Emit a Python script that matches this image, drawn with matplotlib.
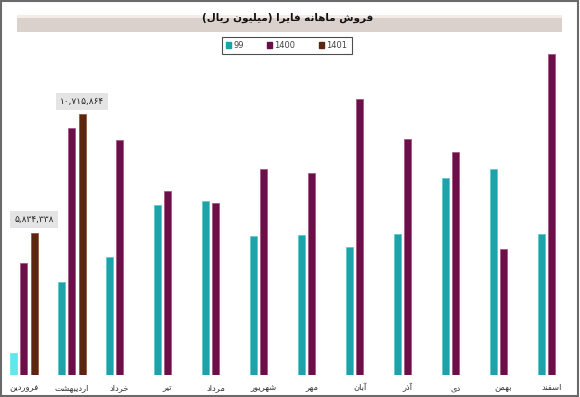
import numpy as np
import matplotlib
matplotlib.use("Agg")
import matplotlib.pyplot as plt
from matplotlib.patches import Rectangle, Polygon

# Data (million rials)
months = ['فروردین', 'اردیبهشت', 'خرداد', 'تیر', 'مرداد', 'شهریور',
          'مهر', 'آبان', 'آذر', 'دی', 'بهمن', 'اسفند']
sales_99 = [920000, 3830000, 4860000, 6990000, 7150000, 5710000,
            5750000, 5270000, 5800000, 8110000, 8470000, 5800000]
sales_1400 = [4590000, 10140000, 9660000, 7570000, 7060000, 8450000,
              8310000, 11360000, 9710000, 9150000, 5190000, 13190000]
sales_1401 = [5834338, 10715864]
series_names = ['99', '1400', '1401']
title = 'فروش ماهانه فایرا (میلیون ریال)'

# --- minimal Persian shaping (matplotlib has no bidi / joining) ---
RIGHT_ONLY = set('اآدذرزوژ')
FORMS = {
    'ا': ('\uFE8D', '\uFE8E', None, None),
    'آ': ('\uFE81', '\uFE82', None, None),
    'ب': ('\uFE8F', '\uFE90', '\uFE91', '\uFE92'),
    'ت': ('\uFE95', '\uFE96', '\uFE97', '\uFE98'),
    'خ': ('\uFEA5', '\uFEA6', '\uFEA7', '\uFEA8'),
    'د': ('\uFEA9', '\uFEAA', None, None),
    'ذ': ('\uFEAB', '\uFEAC', None, None),
    'ر': ('\uFEAD', '\uFEAE', None, None),
    'س': ('\uFEB1', '\uFEB2', '\uFEB3', '\uFEB4'),
    'ش': ('\uFEB5', '\uFEB6', '\uFEB7', '\uFEB8'),
    'ف': ('\uFED1', '\uFED2', '\uFED3', '\uFED4'),
    'ل': ('\uFEDD', '\uFEDE', '\uFEDF', '\uFEE0'),
    'م': ('\uFEE1', '\uFEE2', '\uFEE3', '\uFEE4'),
    'ن': ('\uFEE5', '\uFEE6', '\uFEE7', '\uFEE8'),
    'ه': ('\uFEE9', '\uFEEA', '\uFEEB', '\uFEEC'),
    'و': ('\uFEED', '\uFEEE', None, None),
    'ی': ('\uFEEF', '\uFEF0', '\uFEF3', '\uFEF4'),
}


def shape(text):
    out = []
    for i, ch in enumerate(text):
        if ch not in FORMS:
            out.append(ch)
            continue
        prev = text[i - 1] if i > 0 else ''
        nxt = text[i + 1] if i + 1 < len(text) else ''
        jp = prev in FORMS and prev not in RIGHT_ONLY
        jn = nxt in FORMS and ch not in RIGHT_ONLY
        iso, fin, ini, med = FORMS[ch]
        out.append(med if jp and jn else fin if jp else ini if jn else iso)
    vis = ''.join(reversed(out))
    return vis.translate(str.maketrans('()', ')('))


fa_digits = str.maketrans('0123456789', '۰۱۲۳۴۵۶۷۸۹')

plt.rcParams['font.family'] = ['DejaVu Sans']

W, H = 580, 397
fig = plt.figure(figsize=(W / 100, H / 100), dpi=100)

# background / frame drawn in pixel coords
bg = fig.add_axes([0, 0, 1, 1], zorder=0)
bg.set_xlim(0, W)
bg.set_ylim(H, 0)
bg.axis('off')
bg.add_patch(Rectangle((0, 0), W, H, color='white'))
# title band
bg.add_patch(Rectangle((17, 15), 545, 3, color='#F3ECE8', lw=0))
bg.add_patch(Rectangle((17, 18), 545, 14, color='#DAD0CC', lw=0))
# right bevel
grad_h = np.linspace(0, 1, 64).reshape(1, -1)
bg.imshow(grad_h, cmap=matplotlib.colors.LinearSegmentedColormap.from_list(
    'r', ['#FFFFFF', '#CFCFCF', '#6E6E6E']), extent=[556, 577, H, 8], aspect='auto')
# bottom bevel
grad_v = np.linspace(0, 1, 64).reshape(-1, 1)
im = bg.imshow(grad_v, cmap=matplotlib.colors.LinearSegmentedColormap.from_list(
    'b', ['#F2F2F2', '#C8C8C8', '#8C8C8C']), extent=[3, 577, H, 377], aspect='auto')
clip = Polygon([(3, H), (18, 377), (556, 377), (577, H)], closed=True,
               transform=bg.transData, fc='none', ec='none')
bg.add_patch(clip)
im.set_clip_path(clip)
bg.add_patch(Rectangle((0.8, 0.8), W - 2.5, H - 2, fill=False, ec='#6A6A6A', lw=1.5))
bg.set_xlim(0, W)
bg.set_ylim(H, 0)

# main chart
px = 48.0
ax = fig.add_axes([5 / W, 22 / H, 551 / W, 335 / H], zorder=2)
ax.patch.set_alpha(0)
xmin = -18.5 / px
ax.set_xlim(xmin, xmin + 551 / px)
ax.set_ylim(0, 335 * 41100)

x = np.arange(len(months))
bw = 7 / px
off = 10.5 / px
c99, c1400, c1401 = '#1AA3A8', '#6A0F47', '#5A2511'
bars99 = ax.bar(x - off, sales_99, bw, color=c99, edgecolor='#5CC7CB', lw=0.5)
bars99[0].set_color('#62E6EC')
ax.bar(x, sales_1400, bw, color=c1400, edgecolor='#A05078', lw=0.5)
b1401 = ax.bar(x[:len(sales_1401)] + off, sales_1401, bw, color=c1401,
               edgecolor='#8A5030', lw=0.5)

for rect, v in zip(b1401, sales_1401):
    ax.annotate(f'{v:,}'.translate(fa_digits),
                (rect.get_x() + rect.get_width() / 2, rect.get_height()),
                xytext=(0, 9.5), textcoords='offset points', ha='center', va='center',
                fontsize=6.5, color='#222222',
                bbox=dict(boxstyle='square,pad=0.45', fc='#E4E4E4', ec='none'))

ax.set_xticks(x)
ax.set_xticklabels([shape(m) for m in months], fontsize=6, color='#333333')
ax.tick_params(axis='x', length=0, pad=6)
ax.set_yticks([])
for s in ax.spines.values():
    s.set_visible(False)

fig.text(288 / W, 1 - 17.5 / H, shape(title), ha='center', va='center',
         fontsize=7.5, fontweight='bold', color='#111111')

handles = [Rectangle((0, 0), 1, 1, color=c) for c in (c99, c1400, c1401)]
leg = fig.legend(handles, series_names, loc='center', ncol=3,
                 bbox_to_anchor=(286.5 / W, 1 - 45.5 / H), fontsize=6,
                 frameon=True, fancybox=False, edgecolor='#222222',
                 handlelength=0.6, handleheight=0.6, handletextpad=0.3,
                 columnspacing=2.8, borderpad=0.5, labelcolor='#444444')
leg.get_frame().set_linewidth(0.8)
leg.set_zorder(5)

fig.savefig('out.png', dpi=100)
